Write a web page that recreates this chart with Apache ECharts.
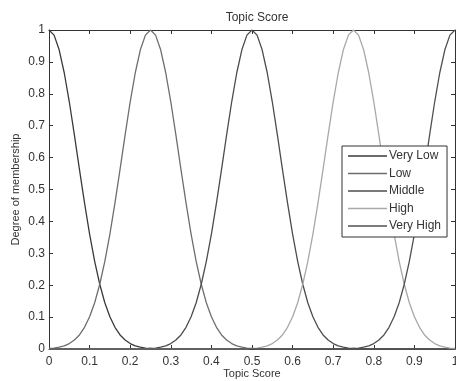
<!DOCTYPE html>
<html>
<head>
<meta charset="utf-8">
<script src="https://cdn.jsdelivr.net/npm/echarts@6/dist/echarts.min.js"></script>
<style>
  html, body { margin: 0; padding: 0; background: #fff; }
  #chart { width: 456px; height: 381px; }
</style>
</head>
<body>
<div id="chart"></div>
<script>
  // x positions, step 0.0125 from 0 to 1 (81 points)
  var xValues = [];
  for (var i = 0; i <= 80; i++) { xValues.push(+(i * 0.0125).toFixed(4)); }

  var seriesNames = ['Very Low', 'Low', 'Middle', 'High', 'Very High'];
  var seriesColors = ['#3a3a3a', '#6e6e6e', '#4c4c4c', '#a8a8a8', '#505050'];

  // membership values, one per x position
  var veryLow = [1, 0.984, 0.938, 0.866, 0.775, 0.671, 0.563, 0.458, 0.360, 0.275, 0.203, 0.145, 0.101, 0.068, 0.044, 0.028, 0.017, 0.010, 0.006, 0.003, 0.002,
    0, 0, 0, 0, 0, 0, 0, 0, 0, 0, 0, 0, 0, 0, 0, 0, 0, 0, 0, 0,
    0, 0, 0, 0, 0, 0, 0, 0, 0, 0, 0, 0, 0, 0, 0, 0, 0, 0, 0, 0,
    0, 0, 0, 0, 0, 0, 0, 0, 0, 0, 0, 0, 0, 0, 0, 0, 0, 0, 0, 0];
  var low = [0.002, 0.003, 0.006, 0.010, 0.017, 0.028, 0.044, 0.068, 0.101, 0.145, 0.203, 0.275, 0.360, 0.458, 0.563, 0.671, 0.775, 0.866, 0.938, 0.984, 1,
    0.984, 0.938, 0.866, 0.775, 0.671, 0.563, 0.458, 0.360, 0.275, 0.203, 0.145, 0.101, 0.068, 0.044, 0.028, 0.017, 0.010, 0.006, 0.003, 0.002,
    0, 0, 0, 0, 0, 0, 0, 0, 0, 0, 0, 0, 0, 0, 0, 0, 0, 0, 0, 0,
    0, 0, 0, 0, 0, 0, 0, 0, 0, 0, 0, 0, 0, 0, 0, 0, 0, 0, 0, 0];
  var middle = [0, 0, 0, 0, 0, 0, 0, 0, 0, 0, 0, 0, 0, 0, 0, 0, 0, 0, 0, 0,
    0.002, 0.003, 0.006, 0.010, 0.017, 0.028, 0.044, 0.068, 0.101, 0.145, 0.203, 0.275, 0.360, 0.458, 0.563, 0.671, 0.775, 0.866, 0.938, 0.984, 1,
    0.984, 0.938, 0.866, 0.775, 0.671, 0.563, 0.458, 0.360, 0.275, 0.203, 0.145, 0.101, 0.068, 0.044, 0.028, 0.017, 0.010, 0.006, 0.003, 0.002,
    0, 0, 0, 0, 0, 0, 0, 0, 0, 0, 0, 0, 0, 0, 0, 0, 0, 0, 0, 0];
  var high = [0, 0, 0, 0, 0, 0, 0, 0, 0, 0, 0, 0, 0, 0, 0, 0, 0, 0, 0, 0,
    0, 0, 0, 0, 0, 0, 0, 0, 0, 0, 0, 0, 0, 0, 0, 0, 0, 0, 0, 0,
    0.002, 0.003, 0.006, 0.010, 0.017, 0.028, 0.044, 0.068, 0.101, 0.145, 0.203, 0.275, 0.360, 0.458, 0.563, 0.671, 0.775, 0.866, 0.938, 0.984, 1,
    0.984, 0.938, 0.866, 0.775, 0.671, 0.563, 0.458, 0.360, 0.275, 0.203, 0.145, 0.101, 0.068, 0.044, 0.028, 0.017, 0.010, 0.006, 0.003, 0.002];
  var veryHigh = [0, 0, 0, 0, 0, 0, 0, 0, 0, 0, 0, 0, 0, 0, 0, 0, 0, 0, 0, 0,
    0, 0, 0, 0, 0, 0, 0, 0, 0, 0, 0, 0, 0, 0, 0, 0, 0, 0, 0, 0,
    0, 0, 0, 0, 0, 0, 0, 0, 0, 0, 0, 0, 0, 0, 0, 0, 0, 0, 0, 0,
    0.002, 0.003, 0.006, 0.010, 0.017, 0.028, 0.044, 0.068, 0.101, 0.145, 0.203, 0.275, 0.360, 0.458, 0.563, 0.671, 0.775, 0.866, 0.938, 0.984, 1];

  var allValues = [veryLow, low, middle, high, veryHigh];

  var textColor = '#333';
  var fontFamily = '"Liberation Sans", Arial, sans-serif';

  function pairs (ys) {
    var out = [];
    for (var i = 0; i < xValues.length; i++) { out.push([xValues[i], ys[i]]); }
    return out;
  }

  var series = [];
  for (var s = 0; s < seriesNames.length; s++) {
    series.push({
      name: seriesNames[s],
      type: 'line',
      xAxisIndex: 0,
      yAxisIndex: 0,
      symbol: 'none',
      color: seriesColors[s],
      itemStyle: { color: seriesColors[s] },
      lineStyle: { width: 1.3, color: seriesColors[s] },
      data: pairs(allValues[s])
    });
  }

  function boxAxis (pos, showLabel, name) {
    return {
      type: 'value',
      position: pos,
      min: 0,
      max: 1,
      interval: 0.1,
      name: name || '',
      nameLocation: 'middle',
      nameGap: (pos === 'left') ? 28 : 19,
      nameMoveOverlap: false,
      nameTextStyle: { color: textColor, fontSize: 11, fontFamily: fontFamily },
      axisLine: { show: true, onZero: false, lineStyle: { color: '#333', width: 1 } },
      axisTick: { show: true, inside: true, length: 4, lineStyle: { color: '#333' } },
      axisLabel: {
        show: showLabel,
        color: textColor,
        fontSize: 12,
        fontFamily: fontFamily,
        margin: (pos === 'left') ? 4 : 7
      },
      splitLine: { show: false }
    };
  }

  var chart = echarts.init(document.getElementById('chart'));
  chart.setOption({
    animation: false,
    backgroundColor: '#fff',
    title: {
      text: 'Topic Score',
      left: 252,
      textAlign: 'center',
      top: 7,
      textStyle: { color: textColor, fontSize: 12, fontWeight: 'normal', fontFamily: fontFamily }
    },
    legend: {
      orient: 'vertical',
      left: 342,
      top: 146,
      data: seriesNames,
      icon: 'rect',
      itemWidth: 39,
      itemHeight: 1.3,
      itemGap: 5.5,
      padding: [4, 6, 5, 6],
      borderColor: '#333',
      borderWidth: 1,
      backgroundColor: '#fff',
      textStyle: { color: textColor, fontSize: 12, fontFamily: fontFamily, padding: [0, 0, 0, -3] }
    },
    grid: { left: 49, right: 1, top: 30, bottom: 32, outerBoundsMode: 'none' },
    xAxis: [
      boxAxis('bottom', true, 'Topic Score'),
      boxAxis('top', false)
    ],
    yAxis: [
      boxAxis('left', true, 'Degree of membership'),
      boxAxis('right', false)
    ],
    series: series
  });
</script>
</body>
</html>
